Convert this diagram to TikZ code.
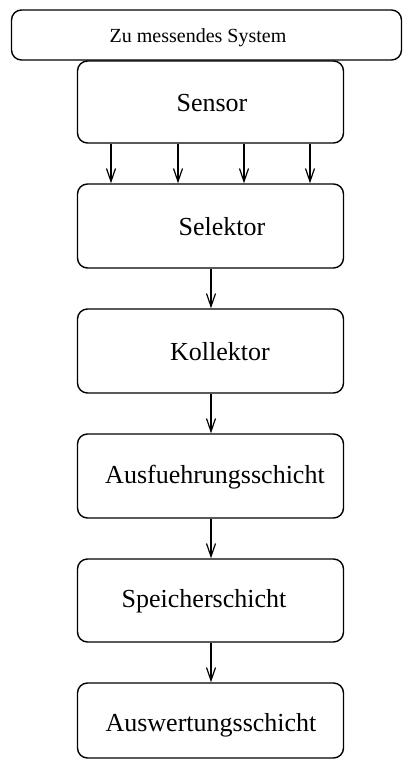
\documentclass[tikz,border=0pt]{standalone}
\usepackage{fontspec}
\setmainfont{Liberation Serif}
\usetikzlibrary{arrows.meta}
\begin{document}
\begin{tikzpicture}[x=1pt,y=-1pt,
  box/.style={draw, line width=1.4pt, rounded corners=10pt, minimum width=266pt, inner sep=0pt},
  lbl/.style={inner sep=0pt, font=\fontsize{26}{30}\selectfont},
  arr/.style={line width=1.2pt, -{Straight Barb[length=13pt,width=9pt,line width=1.2pt]}}]
\useasboundingbox (0,0) rectangle (403,761);
% system under measurement
\node[box, minimum width=390pt, minimum height=50pt] (sys) at (206.5,35) {};
\node[inner sep=0pt, font=\fontsize{20}{24}\selectfont] (syst) at (198,38) {Zu messendes System};
% processing chain
\node[box, minimum height=82pt] (sen) at (210.5,102) {};
\node[lbl] (sent) at (212,103) {Sensor};
\node[box, minimum height=84pt] (sel) at (210.5,226) {};
\node[lbl] (selt) at (222,227) {Selektor};
\node[box, minimum height=84pt] (kol) at (210.5,351) {};
\node[lbl] (kolt) at (220,352) {Kollektor};
\node[box, minimum height=84pt] (aus) at (210.5,476) {};
\node[lbl] (aust) at (215,477) {Ausfuehrungsschicht};
\node[box, minimum height=83pt] (spe) at (210.5,600.5) {};
\node[lbl] (spet) at (204,601) {Speicherschicht};
\node[box, minimum height=75pt] (awt) at (210.5,720.5) {};
\node[lbl] (awtt) at (211,725) {Auswertungsschicht};
% connectors
\foreach \xx in {111,178,244,310}
  \draw[arr] (\xx,0 |- sen.south) -- (\xx,0 |- sel.north);
\draw[arr] (sel.south -| 211,0) -- (kol.north -| 211,0);
\draw[arr] (kol.south -| 211,0) -- (aus.north -| 211,0);
\draw[arr] (aus.south -| 211,0) -- (spe.north -| 211,0);
\draw[arr] (spe.south -| 211,0) -- (awt.north -| 211,0);
\end{tikzpicture}
\end{document}
